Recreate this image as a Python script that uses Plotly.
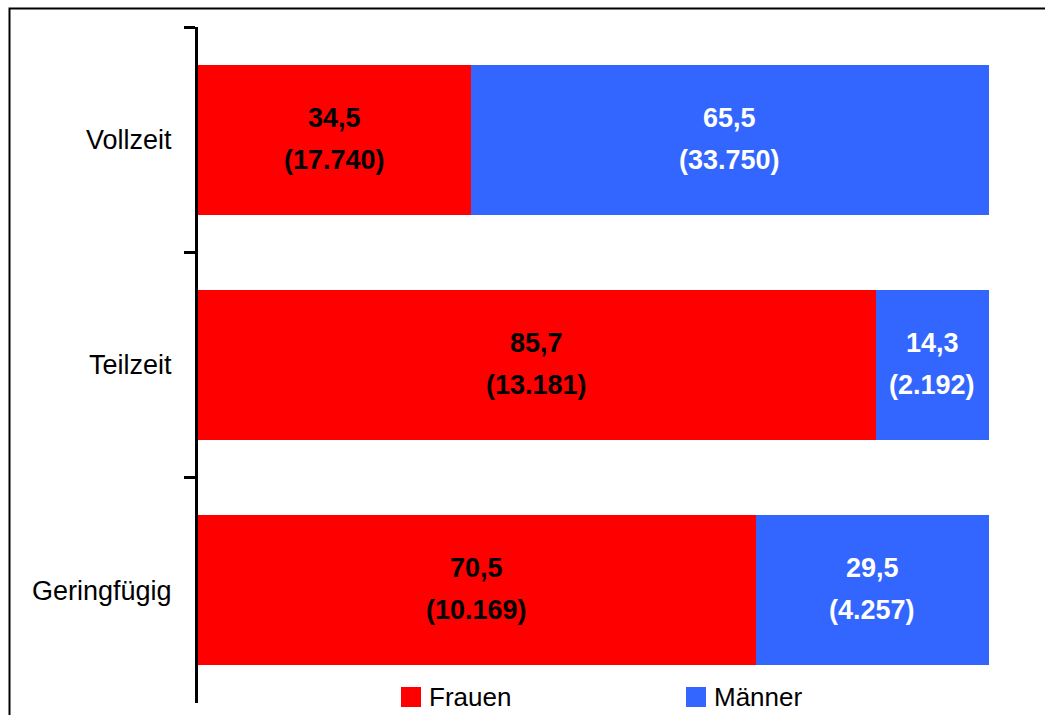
import plotly.graph_objects as go

# Beschäftigungsform nach Geschlecht: Anteil in % und absolute Zahl
kategorien = ["Vollzeit", "Teilzeit", "Geringfügig"]
frauen_prozent = [34.5, 85.7, 70.5]
maenner_prozent = [65.5, 14.3, 29.5]
frauen_anzahl = ["17.740", "13.181", "10.169"]
maenner_anzahl = ["33.750", "2.192", "4.257"]

ROT = "#FF0000"
BLAU = "#3366FF"
FONT = "Liberation Sans, Arial, sans-serif"

W, H = 1045, 715
ML, MR, MT, MB = 198, 56, 27, 12

fig = go.Figure()
fig.add_trace(go.Bar(y=kategorien, x=frauen_prozent, orientation="h", name="Frauen",
                     marker=dict(color=ROT, line=dict(width=0)), showlegend=False))
fig.add_trace(go.Bar(y=kategorien, x=maenner_prozent, orientation="h", name="Männer",
                     marker=dict(color=BLAU, line=dict(width=0)), showlegend=False))


def fmt(v):
    return f"{v:.1f}".replace(".", ",")


annotations = []
for kat, f, m, fa, ma in zip(kategorien, frauen_prozent, maenner_prozent, frauen_anzahl, maenner_anzahl):
    for mitte, wert, anzahl, farbe in ((f / 2, f, fa, "black"), (f + m / 2, m, ma, "white")):
        for text, shift in ((fmt(wert), 22), (f"({anzahl})", -20)):
            annotations.append(dict(
                x=mitte, y=kat, xref="x", yref="y", text=f"<b>{text}</b>",
                showarrow=False, yshift=shift,
                font=dict(family=FONT, size=27, color=farbe)))

# Legende unten
pw, ph = W - ML - MR, H - MT - MB


def px2x(px):
    return (px - ML) / pw


def px2y(py):
    return (H - MB - py) / ph


shapes = []
for sx, farbe, label in ((401, ROT, "Frauen"), (686, BLAU, "Männer")):
    shapes.append(dict(type="rect", xref="paper", yref="paper",
                       x0=px2x(sx), x1=px2x(sx + 20), y0=px2y(707), y1=px2y(687),
                       fillcolor=farbe, line=dict(width=0)))
    annotations.append(dict(x=px2x(sx + 26), y=px2y(697), xref="paper", yref="paper",
                            text=label, showarrow=False, xanchor="left", yanchor="middle",
                            font=dict(family=FONT, size=26, color="black")))

# Rahmen um das Diagramm
shapes.append(dict(type="rect", xref="paper", yref="paper",
                   x0=px2x(9.5), x1=px2x(W + 40), y0=px2y(H + 40), y1=px2y(8.5),
                   line=dict(color="black", width=2), fillcolor="rgba(0,0,0,0)", layer="below"))

fig.update_layout(
    width=W, height=H,
    margin=dict(l=ML, r=MR, t=MT, b=MB),
    barmode="stack", bargap=1/3,
    plot_bgcolor="white", paper_bgcolor="white",
    showlegend=False,
    xaxis=dict(range=[0, 100], visible=False, showgrid=False, zeroline=False),
    yaxis=dict(autorange="reversed", showline=True, linewidth=3, linecolor="black",
               ticks="outside", tickson="boundaries", ticklen=11, tickwidth=3, tickcolor="black",
               ticklabelstandoff=18,
               tickfont=dict(family=FONT, size=27, color="black"), showgrid=False, zeroline=False),
    annotations=annotations, shapes=shapes,
)

fig.write_html("out.html")
